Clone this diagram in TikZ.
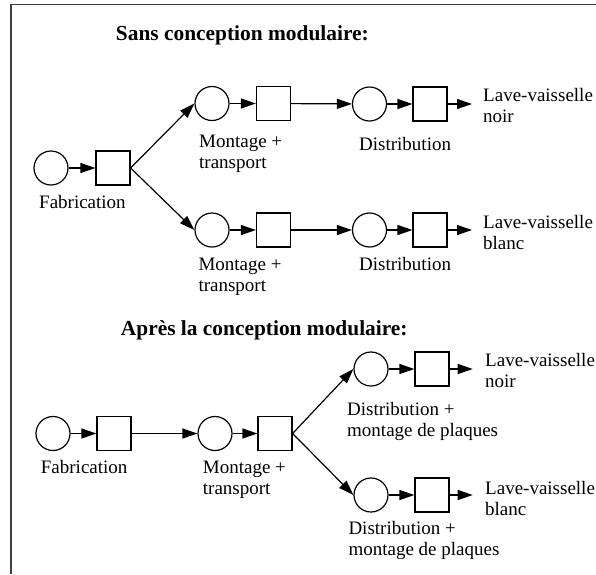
\documentclass[tikz,border=0pt]{standalone}
\usepackage{fontspec}
\setmainfont{Liberation Serif}
\usetikzlibrary{arrows.meta}
\newcommand{\twoln}[2]{\vtop{\baselineskip=21pt\hbox{#1}\hbox{#2}}}
\begin{document}
\begin{tikzpicture}[x=1pt,y=-1pt,
  place/.style={circle,draw,line width=1.2pt,minimum size=34pt,inner sep=0pt},
  trans/.style={rectangle,draw,line width=1.2pt,minimum size=34pt,inner sep=0pt},
  arr/.style={line width=1.2pt,-{Triangle[length=15pt,width=10pt]}},
  lbl/.style={anchor=base west,inner sep=0pt,font=\fontsize{19}{21}\selectfont},
  ttl/.style={anchor=base west,inner sep=0pt,font=\fontsize{21.4}{24}\selectfont\bfseries}]
\useasboundingbox (0,0) rectangle (596,574);
\draw[line width=1.5pt, black!75] (596,4.7) -- (11,4.7) -- (11,574);
% ---------- top section ----------
\node[ttl] (t1) at (115.7,40) {Sans conception modulaire:};
\node[place] (c1) at (51,168) {};
\node[trans] (s1) at (113,168) {};
\node[place] (c2) at (212,103.5) {};
\node[trans] (s2) at (273.5,103.5) {};
\node[place] (c3) at (369.5,104) {};
\node[trans] (s3) at (430,104) {};
\node[place] (c4) at (212,230) {};
\node[trans] (s4) at (273.5,230) {};
\node[place] (c5) at (369.5,230) {};
\node[trans] (s5) at (430,230) {};
\coordinate (o1) at (472,104);
\coordinate (o2) at (472,230);
\draw[arr] (c1) -- (s1);
\draw[arr] (s1.east) -- (c2.west);
\draw[arr] (s1.east) -- (c4.west);
\draw[arr] (c2) -- (s2);
\draw[arr] (s2) -- (c3);
\draw[arr] (c3) -- (s3);
\draw[arr] (s3) -- (o1);
\draw[arr] (c4) -- (s4);
\draw[arr] (s4) -- (c5);
\draw[arr] (c5) -- (s5);
\draw[arr] (s5) -- (o2);
\node[lbl] (l1) at (39,208) {Fabrication};
\node[lbl] (l2) at (199,147) {\twoln{Montage +}{transport}};
\node[lbl] (l3) at (359,150) {Distribution};
\node[lbl] (l4) at (483,101.7) {\twoln{Lave-vaisselle}{noir}};
\node[lbl] (l5) at (198.3,270.7) {\twoln{Montage +}{transport}};
\node[lbl] (l6) at (359,270) {Distribution};
\node[lbl] (l7) at (483,228.5) {\twoln{Lave-vaisselle}{blanc}};
% ---------- bottom section ----------
\node[ttl] (t2) at (120.7,335) {Après la conception modulaire:};
\node[place] (b1) at (53,433.5) {};
\node[trans] (bs1) at (114,433.5) {};
\node[place] (b2) at (215,433.5) {};
\node[trans] (bs2) at (275,433.5) {};
\node[place] (b3) at (371,369) {};
\node[trans] (bs3) at (432,369) {};
\node[place] (b4) at (371,495) {};
\node[trans] (bs4) at (432,495) {};
\coordinate (o3) at (472.7,369);
\coordinate (o4) at (472.7,495);
\draw[arr] (b1) -- (bs1);
\draw[arr] (bs1) -- (b2);
\draw[arr] (b2) -- (bs2);
\draw[arr] (bs2.east) -- (b3.west);
\draw[arr] (bs2.east) -- (b4.west);
\draw[arr] (b3) -- (bs3);
\draw[arr] (bs3) -- (o3);
\draw[arr] (b4) -- (bs4);
\draw[arr] (bs4) -- (o4);
\node[lbl] (m1) at (40.7,473.3) {Fabrication};
\node[lbl] (m2) at (202.7,473.3) {\twoln{Montage +}{transport}};
\node[lbl] (m3) at (347,415.5) {\twoln{Distribution +}{montage de plaques}};
\node[lbl] (m4) at (485,366.7) {\twoln{Lave-vaisselle}{noir}};
\node[lbl] (m5) at (348.3,534) {\twoln{Distribution +}{montage de plaques}};
\node[lbl] (m6) at (485,494) {\twoln{Lave-vaisselle}{blanc}};
\end{tikzpicture}
\end{document}
